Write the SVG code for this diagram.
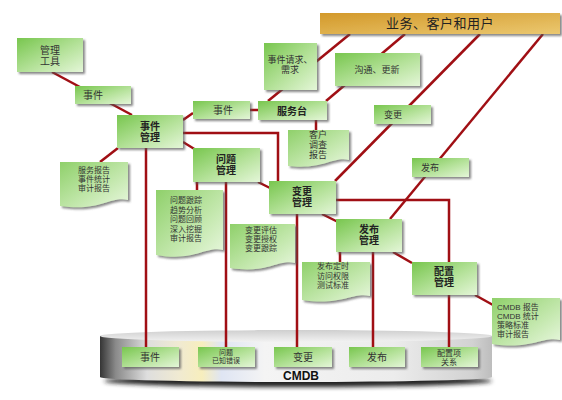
<svg xmlns="http://www.w3.org/2000/svg" width="562" height="400" viewBox="0 0 562 400">
<defs>
<linearGradient id="g" x1="0" y1="0" x2="1" y2="1">
<stop offset="0" stop-color="#78c64e"/><stop offset="0.55" stop-color="#b5e29a"/><stop offset="1" stop-color="#e4f6d8"/>
</linearGradient>
<linearGradient id="gd" x1="0" y1="0" x2="1" y2="1">
<stop offset="0" stop-color="#8fd06a"/><stop offset="0.6" stop-color="#c4e8ae"/><stop offset="1" stop-color="#e8f7de"/>
</linearGradient>
<linearGradient id="gt" x1="0" y1="0" x2="1" y2="1">
<stop offset="0" stop-color="#d3992a"/><stop offset="1" stop-color="#ebc870"/>
</linearGradient>
<linearGradient id="cyl" x1="0" y1="0" x2="1" y2="0">
<stop offset="0" stop-color="#353535"/><stop offset="0.04" stop-color="#8a8a8a"/><stop offset="0.12" stop-color="#dedede"/><stop offset="0.2" stop-color="#f0ead2"/><stop offset="0.26" stop-color="#f7eebd"/><stop offset="0.31" stop-color="#dfe5f3"/><stop offset="0.42" stop-color="#f4f4f4"/><stop offset="0.75" stop-color="#ececec"/><stop offset="0.95" stop-color="#d2d2d2"/><stop offset="1" stop-color="#bdbdbd"/>
</linearGradient>
<linearGradient id="cyltop" x1="0" y1="0" x2="0" y2="1">
<stop offset="0" stop-color="#cfcfcf"/><stop offset="1" stop-color="#f2f2f2"/>
</linearGradient>
<filter id="sh" x="-10%" y="-10%" width="130%" height="140%">
<feDropShadow dx="2" dy="2" stdDeviation="0.8" flood-color="#555" flood-opacity="0.7"/>
</filter>
<filter id="blur" x="-5%" y="-50%" width="110%" height="200%"><feGaussianBlur stdDeviation="2"/></filter>
</defs>
<style>
.box{fill:url(#g);filter:url(#sh)}
.doc{fill:url(#gd);filter:url(#sh)}
.t{font-family:"Liberation Sans","Noto Sans CJK SC",sans-serif;font-size:9px;fill:#333;text-anchor:middle}
.b{font-weight:bold;font-size:10px;fill:#222}
.m{font-size:10px}
.s{font-size:8px}
.l{text-anchor:start}
.c{fill:none;stroke:#a00f14;stroke-width:2.5}
</style>

<g id="cmdb">
<ellipse cx="298" cy="381" rx="194" ry="6" fill="#222" filter="url(#blur)"/>
<path d="M100,336 V377 A196,5 0 0 0 492,377 V336 Z" fill="url(#cyl)"/>
<ellipse cx="296" cy="336" rx="196" ry="6" fill="url(#cyltop)"/>
<text x="283" y="380" style="font-family:'Liberation Sans',Arial,sans-serif;font-weight:bold;font-size:12px;fill:#111">CMDB</text>
</g>

<g id="connectors">
<path class="c" d="M52,72 L132,115"/>
<path class="c" d="M183,120 L193,113 M250,110 L258,110"/>
<path class="c" d="M268,101 L350,34"/>
<path class="c" d="M326,101 L405,34"/>
<path class="c" d="M335,181 L480,34"/>
<path class="c" d="M390,219 L543,34"/>
<path class="c" d="M118,148 L100,162"/>
<path class="c" d="M183,142 L196,150"/>
<path class="c" d="M183,133 H278 V181"/>
<path class="c" d="M146,148 V347"/>
<path class="c" d="M197,182 V190 M226,182 V347"/>
<path class="c" d="M258,182 L270,188"/>
<path class="c" d="M297,214 V347"/>
<path class="c" d="M322,214 L338,222"/>
<path class="c" d="M336,200 H449 V262"/>
<path class="c" d="M340,252 V262 M373,252 V347"/>
<path class="c" d="M393,252 L412,263"/>
<path class="c" d="M449,295 V347"/>
<path class="c" d="M475,295 L493,305"/>
<path class="c" d="M316,120 V130"/>
</g>

<g id="title">
<rect x="320" y="13" width="240" height="21" fill="url(#gt)" filter="url(#sh)"/>
<text class="t" x="440" y="28" style="font-size:13px;fill:#222;letter-spacing:0.5px">业务、客户和用户</text>
</g>

<g id="tool"><rect class="box" x="17" y="38" width="66" height="34"/>
<text class="t m" x="50" y="54">管理<tspan x="50" dy="11.3">工具</tspan></text></g>

<g id="evt1"><rect class="box" x="75" y="86" width="56" height="18"/><text class="t m" x="93" y="99">事件</text></g>

<g id="evtmgmt"><rect class="box" x="117" y="115" width="66" height="33"/>
<text class="t b" x="150" y="130">事件<tspan x="150" dy="11.3">管理</tspan></text></g>

<g id="evt2"><rect class="box" x="193" y="101" width="57" height="18"/><text class="t m" x="223" y="114">事件</text></g>

<g id="desk"><rect class="box" x="258" y="101" width="69" height="19"/><text class="t b" x="292" y="115">服务台</text></g>

<g id="req"><rect class="box" x="264" y="43" width="53" height="47"/>
<text class="t" x="290" y="63">事件请求、<tspan x="290" dy="10.2">需求</tspan></text></g>

<g id="comm"><rect class="box" x="335" y="53" width="85" height="33"/><text class="t" x="377" y="73">沟通、更新</text></g>

<g id="chg1"><rect class="box" x="374" y="105" width="57" height="19"/><text class="t" x="393" y="118">变更</text></g>

<g id="rel1"><rect class="box" x="412" y="158" width="57" height="19"/><text class="t" x="430" y="171">发布</text></g>

<g id="survey"><path class="doc" d="M288,130 H349 V160 C333,156 324,170 288,166 Z"/>
<text class="t" x="318" y="138">客户<tspan x="318" dy="10.2">调查</tspan><tspan x="318" dy="10.2">报告</tspan></text></g>

<g id="prob"><rect class="box" x="193" y="148" width="67" height="34"/>
<text class="t b" x="226" y="163">问题<tspan x="226" dy="11.3">管理</tspan></text></g>

<g id="svcreport"><path class="doc" d="M60,162 H128 V200 C110,196 100,212 60,206 Z"/>
<text class="t s" x="94" y="173">服务报告<tspan x="94" dy="9">事件统计</tspan><tspan x="94" dy="9">审计报告</tspan></text></g>

<g id="probdoc"><path class="doc" d="M156,190 H223 V250 C205,246 195,262 156,255 Z"/>
<text class="t s" x="186" y="203">问题跟踪<tspan x="186" dy="9.5">趋势分析</tspan><tspan x="186" dy="9.5">问题回顾</tspan><tspan x="186" dy="9.5">深入挖掘</tspan><tspan x="186" dy="9.5">审计报告</tspan></text></g>

<g id="chgmgmt"><rect class="box" x="269" y="181" width="67" height="33"/>
<text class="t b" x="302" y="195">变更<tspan x="302" dy="11.3">管理</tspan></text></g>

<g id="chgdoc"><path class="doc" d="M230,224 H295 V263 C278,259 268,274 230,268 Z"/>
<text class="t s" x="261" y="233">变更评估<tspan x="261" dy="9">变更授权</tspan><tspan x="261" dy="9">变更跟踪</tspan></text></g>

<g id="relmgmt"><rect class="box" x="336" y="219" width="66" height="33"/>
<text class="t b" x="369" y="233">发布<tspan x="369" dy="11.3">管理</tspan></text></g>

<g id="reldoc"><path class="doc" d="M302,262 H370 V296 C352,292 342,306 302,300 Z"/>
<text class="t s" x="333" y="269">发布定时<tspan x="333" dy="9.5">访问权限</tspan><tspan x="333" dy="9.5">测试标准</tspan></text></g>

<g id="cfgmgmt"><rect class="box" x="412" y="262" width="65" height="33"/>
<text class="t b" x="444" y="275">配置<tspan x="444" dy="11.3">管理</tspan></text></g>

<g id="cmdbdoc"><path class="doc" d="M492,298 H560 V340 C542,336 532,350 492,344 Z"/>
<text class="t s l" x="497" y="310">CMDB 报告<tspan x="497" dy="9">CMDB 统计</tspan><tspan x="497" dy="9">策略标准</tspan><tspan x="497" dy="9">审计报告</tspan></text></g>

<g id="c_evt"><rect class="box" x="122" y="347" width="57" height="20"/><text class="t m" x="150" y="361">事件</text></g>
<g id="c_prob"><rect class="box" x="198" y="347" width="57" height="20"/>
<text class="t" x="226" y="354.5" style="font-size:7px">问题<tspan x="226" dy="8">已知错误</tspan></text></g>
<g id="c_chg"><rect class="box" x="274" y="347" width="58" height="20"/><text class="t m" x="303" y="361">变更</text></g>
<g id="c_rel"><rect class="box" x="349" y="347" width="56" height="20"/><text class="t m" x="377" y="361">发布</text></g>
<g id="c_cfg"><rect class="box" x="421" y="347" width="57" height="20"/>
<text class="t s" x="449" y="355.5">配置项<tspan x="449" dy="9">关系</tspan></text></g>
</svg>
